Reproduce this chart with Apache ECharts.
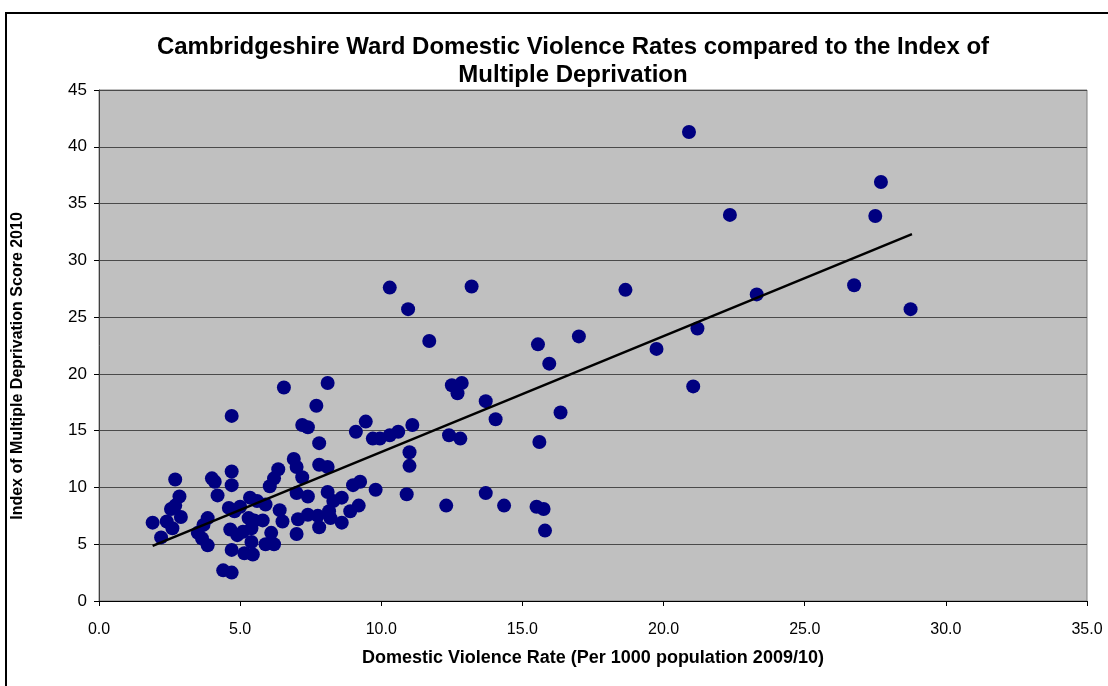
<!DOCTYPE html>
<html>
<head>
<meta charset="utf-8">
<script src="https://cdn.jsdelivr.net/npm/echarts@6/dist/echarts.min.js"></script>
<style>
  html, body { margin: 0; padding: 0; background: #ffffff; }
  #chart { width: 1108px; height: 686px; }
</style>
</head>
<body>
<div id="chart"></div>
<script>
// Ward domestic violence rate (per 1000 population, 2009/10)
const dvRate = [
  1.9, 2.2, 2.4, 2.6, 2.55, 2.7, 2.9, 2.85, 2.7, 3.5,
  3.65, 3.7, 3.85, 3.85, 4.0, 4.1, 4.2, 4.4, 4.7, 4.7,
  4.7, 4.6, 4.8, 5.0, 4.65, 4.9, 5.1, 4.7, 4.7, 5.15,
  5.45, 5.35, 5.6, 5.3, 5.5, 5.4, 5.4, 5.9, 5.8, 5.9,
  6.55, 6.05, 6.2, 6.35, 6.4, 6.5, 6.1, 6.2, 6.9, 7.0,
  7.2, 7.0, 7.4, 7.05, 7.4, 7.0, 7.2, 7.4, 7.7, 7.8,
  7.8, 7.75, 7.8, 8.1, 8.1, 8.1, 8.3, 8.15, 8.2, 8.6,
  8.6, 8.9, 9.2, 9.0, 9.25, 9.1, 9.45, 9.7, 9.8, 9.95,
  10.3, 10.3, 10.6, 10.95, 11.1, 11.0, 11.0, 10.9, 11.7, 12.3,
  12.4, 12.5, 12.85, 12.7, 12.8, 13.2, 13.7, 13.7, 14.05, 14.35,
  15.55, 15.95, 16.35, 15.6, 15.5, 15.75, 15.8, 17.0, 18.65, 19.75,
  20.9, 21.05, 21.2, 22.35, 23.3, 26.75, 27.5, 27.7, 28.75
];

// Index of Multiple Deprivation score 2010 for the same wards
const imdScore = [
  6.9, 5.6, 7.0, 6.4, 8.1, 8.4, 7.4, 9.2, 10.7, 6.0,
  5.5, 6.7, 7.3, 4.9, 10.8, 10.5, 9.3, 2.7, 16.3, 11.4,
  10.2, 8.2, 7.9, 8.3, 6.3, 5.8, 6.1, 4.5, 2.5, 4.2,
  4.1, 9.1, 8.8, 7.3, 7.1, 6.4, 5.2, 8.5, 7.1, 5.0,
  18.8, 10.1, 10.8, 11.6, 8.0, 7.0, 6.0, 5.0, 12.5, 11.8,
  10.9, 9.5, 9.2, 7.2, 7.6, 5.9, 15.5, 15.3, 17.2, 13.9,
  12.0, 7.5, 6.5, 19.2, 11.8, 9.6, 8.8, 7.9, 7.3, 9.1,
  6.9, 7.9, 8.4, 10.2, 10.5, 14.9, 15.8, 14.3, 9.8, 14.3,
  27.6, 14.6, 14.9, 25.7, 15.5, 13.1, 11.9, 9.4, 22.9, 8.4,
  14.6, 19.0, 19.2, 18.3, 14.3, 27.7, 17.6, 9.5, 16.0, 8.4,
  22.6, 20.9, 16.6, 14.0, 8.3, 8.1, 6.2, 23.3, 27.4, 22.2,
  41.3, 18.9, 24.0, 34.0, 27.0, 27.8, 33.9, 36.9, 25.7
];

// Linear trendline end points (x range of the data)
const trendX = [1.9, 28.8];
const trendY = [4.85, 32.3];

const wardPoints = dvRate.map((x, i) => [x, imdScore[i]]);
const trendPoints = trendX.map((x, i) => [x, trendY[i]]);

const FONT = '"Liberation Sans", Arial, sans-serif';

const chart = echarts.init(document.getElementById('chart'), null, { renderer: 'canvas' });

chart.setOption({
  backgroundColor: '#ffffff',
  animation: false,
  title: {
    text: 'Cambridgeshire Ward Domestic Violence Rates compared to the Index of\nMultiple Deprivation',
    left: 568,
    top: 28,
    textAlign: 'center',
    textStyle: {
      fontFamily: FONT,
      fontSize: 24,
      fontWeight: 'bold',
      color: '#000000',
      lineHeight: 28
    }
  },
  graphic: [
    {
      // chart frame
      type: 'rect',
      shape: { x: 6, y: 13, width: 1120, height: 700 },
      style: { fill: 'none', stroke: '#000000', lineWidth: 2 },
      silent: true,
      z: 100
    },
    {
      // value axis title
      type: 'text',
      x: 18,
      y: 366,
      rotation: Math.PI / 2,
      style: {
        text: 'Index of Multiple Deprivation Score 2010',
        font: 'bold 16px ' + FONT,
        fill: '#000000',
        align: 'center',
        verticalAlign: 'middle'
      },
      silent: true
    }
  ],
  grid: {
    left: 99,
    right: 21,
    top: 90,
    bottom: 85,
    show: true,
    backgroundColor: '#c0c0c0',
    borderColor: '#808080',
    borderWidth: 1
  },
  xAxis: {
    type: 'value',
    min: 0,
    max: 35,
    interval: 5,
    name: 'Domestic Violence Rate (Per 1000 population 2009/10)',
    nameLocation: 'middle',
    nameGap: 48,
    nameTextStyle: { fontFamily: FONT, fontSize: 18, fontWeight: 'bold', color: '#000000' },
    axisLine: { show: true, lineStyle: { color: '#000000', width: 1 } },
    axisTick: { show: true, inside: false, length: 5, lineStyle: { color: '#000000' } },
    axisLabel: {
      fontFamily: FONT, fontSize: 16, color: '#000000', margin: 21,
      formatter: v => v.toFixed(1)
    },
    splitLine: { show: false }
  },
  yAxis: {
    type: 'value',
    min: 0,
    max: 45,
    interval: 5,
    axisLine: { show: true, lineStyle: { color: '#404040', width: 1 } },
    axisTick: { show: true, inside: false, length: 5, lineStyle: { color: '#000000' } },
    axisLabel: { fontFamily: FONT, fontSize: 17, color: '#000000', margin: 12 },
    splitLine: { show: true, lineStyle: { color: '#4a4a4a', width: 1 } }
  },
  series: [
    {
      name: 'Wards',
      type: 'scatter',
      data: wardPoints,
      symbol: 'circle',
      symbolSize: 14,
      itemStyle: { color: '#000080', opacity: 1 },
      z: 3
    },
    {
      name: 'Linear trend',
      type: 'line',
      data: trendPoints,
      symbol: 'none',
      lineStyle: { color: '#000000', width: 2.5 },
      z: 4
    }
  ]
});
</script>
</body>
</html>
